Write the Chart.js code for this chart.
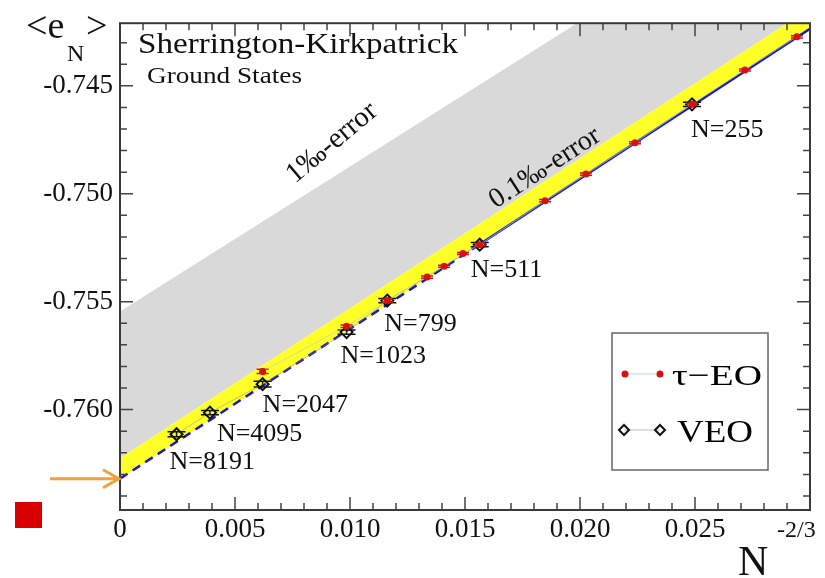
<!DOCTYPE html>
<html lang="en">
<head>
<meta charset="UTF-8">
<title>SK ground states</title>
<script src="https://cdn.jsdelivr.net/npm/chart.js"></script>
<style>
  html, body { margin: 0; padding: 0; background: #fff; }
  #wrap { width: 825px; height: 578px; }
</style>
</head>
<body>
<div id="wrap"><canvas id="chart" width="825" height="578"></canvas></div>
<script>
// ---- data ----
// tau-EO averages (x = N^-2/3)
const tauX = [0.00620, 0.00985, 0.01162, 0.01335, 0.01409, 0.01491, 0.01564, 0.01848, 0.02026, 0.02239, 0.02487, 0.02717, 0.02943];
const tauY = [-0.75823, -0.75614, -0.75495, -0.75386, -0.75336, -0.75277, -0.75236, -0.75032, -0.74909, -0.74764, -0.74586, -0.74427, -0.74273];
const tauErr = [0.00010, 0.00006, 0.00006, 0.00005, 0.00005, 0.00005, 0.00005, 0.00005, 0.00005, 0.00005, 0.00005, 0.00005, 0.00005];

// VEO averages
const veoX = [0.00246, 0.00391, 0.00620, 0.00985, 0.01162, 0.01564, 0.02487];
const veoY = [-0.76114, -0.76014, -0.75882, -0.75641, -0.75495, -0.75236, -0.74586];
const veoErr = [0.00012, 0.00010, 0.00013, 0.00010, 0.00010, 0.00010, 0.00010];
const veoNames = ['N=8191', 'N=4095', 'N=2047', 'N=1023', 'N=799', 'N=511', 'N=255'];

// extrapolation fit and error bands
const fitX = [0, 0.01564, 0.030];
const fitY = [-0.7632, -0.75234, -0.74236];
const bandX = [0, 0.030];
const yellowTopY = [-0.76225, -0.74141];
const grayTopY = [-0.75545, -0.73530];

// axes
const xTicks = [0, 0.005, 0.010, 0.015, 0.020, 0.025];
const xMinor = [0.001, 0.002, 0.003, 0.004, 0.006, 0.007, 0.008, 0.009, 0.011, 0.012, 0.013, 0.014,
                0.016, 0.017, 0.018, 0.019, 0.021, 0.022, 0.023, 0.024, 0.026, 0.027, 0.028, 0.029];
const yTicks = [-0.760, -0.755, -0.750, -0.745];
const yMinor = [-0.764, -0.763, -0.762, -0.761, -0.759, -0.758, -0.757, -0.756, -0.754, -0.753,
                -0.752, -0.751, -0.749, -0.748, -0.747, -0.746, -0.744, -0.743];

const SERIF = '"Liberation Serif", "Times New Roman", serif';
const pts = (xs, ys) => xs.map((x, i) => ({ x: x, y: ys[i] }));

// text drawn to a given width (reference text is slightly stretched)
function fitText(ctx, text, x, y, size, width) {
    ctx.save();
    ctx.font = size + 'px ' + SERIF;
    ctx.textBaseline = 'alphabetic';
    ctx.textAlign = 'left';
    const w = ctx.measureText(text).width;
    const sx = width ? width / w : 1;
    ctx.translate(x, y);
    ctx.scale(sx, 1);
    ctx.fillText(text, 0, 0);
    ctx.restore();
}

function drawErrors(ctx, chart, xs, ys, errs, color, cap) {
    const sx = chart.scales.x, sy = chart.scales.y;
    ctx.save();
    ctx.strokeStyle = color;
    ctx.lineWidth = 1.5;
    xs.forEach((x, i) => {
        const px = sx.getPixelForValue(x);
        const top = sy.getPixelForValue(ys[i] + errs[i]);
        const bot = sy.getPixelForValue(ys[i] - errs[i]);
        ctx.beginPath();
        ctx.moveTo(px, top); ctx.lineTo(px, bot);
        ctx.moveTo(px - cap, top); ctx.lineTo(px + cap, top);
        ctx.moveTo(px - cap, bot); ctx.lineTo(px + cap, bot);
        ctx.stroke();
    });
    ctx.restore();
}

const decor = {
    id: 'decor',
    beforeDatasetDraw(chart, args) {
        const ctx = chart.ctx;
        ctx.save();
        const a = chart.chartArea;
        ctx.beginPath();
        ctx.rect(a.left, a.top, a.right - a.left, a.bottom - a.top);
        ctx.clip();
        if (args.index === 3) drawErrors(ctx, chart, veoX, veoY, veoErr, '#111', 9);
        if (args.index === 4) drawErrors(ctx, chart, tauX, tauY, tauErr, '#d81010', 6);
        ctx.restore();
    },
    afterDraw(chart) {
        const ctx = chart.ctx;
        const a = chart.chartArea;
        const sx = chart.scales.x, sy = chart.scales.y;

        // ticks inside on all four sides
        ctx.save();
        ctx.strokeStyle = '#444';
        ctx.lineWidth = 1.5;
        ctx.beginPath();
        const vt = (vals, len) => vals.forEach(v => {
            const p = sx.getPixelForValue(v);
            ctx.moveTo(p, a.bottom); ctx.lineTo(p, a.bottom - len);
            ctx.moveTo(p, a.top); ctx.lineTo(p, a.top + len);
        });
        const ht = (vals, len) => vals.forEach(v => {
            const p = sy.getPixelForValue(v);
            ctx.moveTo(a.left, p); ctx.lineTo(a.left + len, p);
            ctx.moveTo(a.right, p); ctx.lineTo(a.right - len, p);
        });
        vt(xTicks, 13); vt(xMinor, 7);
        ht(yTicks, 13); ht(yMinor, 7);
        ctx.stroke();
        ctx.lineWidth = 2;
        ctx.strokeStyle = '#3a3a3a';
        ctx.strokeRect(a.left, a.top, a.right - a.left, a.bottom - a.top);
        ctx.restore();

        // N labels below the VEO points
        const offs = [[-7, 35], [7, 28], [0, 28], [-6, 31], [-3, 30], [-9, 32], [-1, 33]];
        ctx.save();
        ctx.fillStyle = '#111';
        veoNames.forEach((t, i) => {
            const px = sx.getPixelForValue(veoX[i]), py = sy.getPixelForValue(veoY[i]);
            fitText(ctx, t, px + offs[i][0], py + offs[i][1], 26);
        });

        // titles
        fitText(ctx, 'Sherrington-Kirkpatrick', 138, 53, 30, 320);
        fitText(ctx, 'Ground States', 147, 83, 23, 155);

        // rotated band labels
        const rot = (t, cx, cy, ang, size) => {
            ctx.save();
            ctx.translate(cx, cy);
            ctx.rotate(-ang * Math.PI / 180);
            ctx.font = size + 'px ' + SERIF;
            ctx.textAlign = 'center';
            ctx.textBaseline = 'middle';
            ctx.fillText(t, 0, 0);
            ctx.restore();
        };
        rot('1\u2030-error', 332, 143, 40, 29);
        rot('0.1\u2030-error', 545, 168, 33, 28);

        // axis titles
        fitText(ctx, '<e', 26, 38, 38);
        fitText(ctx, 'N', 67, 61, 24);
        fitText(ctx, '>', 86, 38, 38);
        fitText(ctx, 'N', 738, 575, 42);
        fitText(ctx, '-2/3', 777, 537, 24);

        // legend
        ctx.strokeStyle = '#666';
        ctx.lineWidth = 1.5;
        ctx.strokeRect(612, 333, 156, 137);
        ctx.lineWidth = 1;
        ctx.strokeStyle = '#b8d4ee';
        ctx.beginPath(); ctx.moveTo(625, 374); ctx.lineTo(660, 374); ctx.stroke();
        ctx.strokeStyle = '#bbb';
        ctx.beginPath(); ctx.moveTo(624, 430); ctx.lineTo(660, 430); ctx.stroke();
        ctx.fillStyle = '#d81010';
        [625, 660].forEach(x => { ctx.beginPath(); ctx.arc(x, 374, 3.5, 0, Math.PI * 2); ctx.fill(); });
        ctx.strokeStyle = '#111';
        ctx.lineWidth = 2;
        [624, 660].forEach(x => {
            ctx.beginPath();
            ctx.moveTo(x - 5, 430); ctx.lineTo(x, 425); ctx.lineTo(x + 5, 430); ctx.lineTo(x, 435);
            ctx.closePath(); ctx.stroke();
        });
        ctx.fillStyle = '#000';
        fitText(ctx, '\u03c4\u2212EO', 672, 385, 30, 90);
        fitText(ctx, 'VEO', 677, 442, 32, 76);

        // arrow to the extrapolated value
        const ay = sy.getPixelForValue(fitY[0]);
        ctx.strokeStyle = '#f0a33a';
        ctx.lineWidth = 3;
        ctx.beginPath();
        ctx.moveTo(50, ay); ctx.lineTo(a.left - 1, ay);
        ctx.moveTo(103, ay - 9); ctx.lineTo(a.left - 1, ay); ctx.lineTo(103, ay + 9);
        ctx.stroke();

        // red square
        ctx.fillStyle = '#d80000';
        ctx.fillRect(15, 502, 27, 26);
        ctx.restore();
    }
};

new Chart(document.getElementById('chart'), {
    type: 'scatter',
    data: {
        datasets: [
            {   // 1% band top
                data: pts(bandX, grayTopY), showLine: true, borderWidth: 0, pointRadius: 0,
                backgroundColor: 'rgb(217,217,217)', fill: '+1', order: 10
            },
            {   // 0.1% band top
                data: pts(bandX, yellowTopY), showLine: true, borderWidth: 0, pointRadius: 0,
                backgroundColor: 'rgb(255,255,40)', fill: '+1', order: 9
            },
            {   // fit line, dashed where extrapolated
                data: pts(fitX, fitY), showLine: true, pointRadius: 0, fill: false,
                borderColor: 'rgb(25,25,200)', borderWidth: 2.5, order: 8,
                segment: { borderDash: c => c.p0DataIndex === 0 ? [9, 6] : undefined }
            },
            {   // VEO
                label: 'VEO', data: pts(veoX, veoY), showLine: true, fill: false,
                borderColor: 'rgba(140,140,140,0.5)', borderWidth: 1,
                pointStyle: 'rectRot', pointRadius: 6, pointBorderWidth: 2,
                pointBorderColor: '#111', pointBackgroundColor: 'rgba(0,0,0,0)', order: 2
            },
            {   // tau-EO
                label: '\u03c4-EO', data: pts(tauX, tauY), showLine: true, fill: false,
                borderColor: 'rgba(170,200,235,0.6)', borderWidth: 1,
                pointStyle: 'circle', pointRadius: 3.5, pointBorderWidth: 0,
                pointBackgroundColor: '#d81010', order: 1
            }
        ]
    },
    options: {
        responsive: false,
        animation: false,
        devicePixelRatio: 1,
        layout: { padding: { top: 14, right: 15, left: 0, bottom: 0 } },
        plugins: { legend: { display: false }, tooltip: { enabled: false } },
        scales: {
            x: {
                type: 'linear', min: 0, max: 0.030,
                afterBuildTicks: s => { s.ticks = xTicks.map(v => ({ value: v })); },
                afterFit: s => { s.height = 68; },
                grid: { display: false, drawTicks: false },
                border: { display: false },
                ticks: {
                    padding: 4, color: '#111', maxRotation: 0,
                    font: { family: SERIF, size: 27 },
                    callback: v => v === 0 ? '0' : v.toFixed(3)
                }
            },
            y: {
                type: 'linear', min: -0.76465, max: -0.7421,
                afterBuildTicks: s => { s.ticks = yTicks.map(v => ({ value: v })); },
                afterFit: s => { s.width = 120; },
                grid: { display: false, drawTicks: false },
                border: { display: false },
                ticks: {
                    padding: 7, color: '#111',
                    font: { family: SERIF, size: 27 },
                    callback: v => v.toFixed(3)
                }
            }
        }
    },
    plugins: [decor]
});
</script>
</body>
</html>
